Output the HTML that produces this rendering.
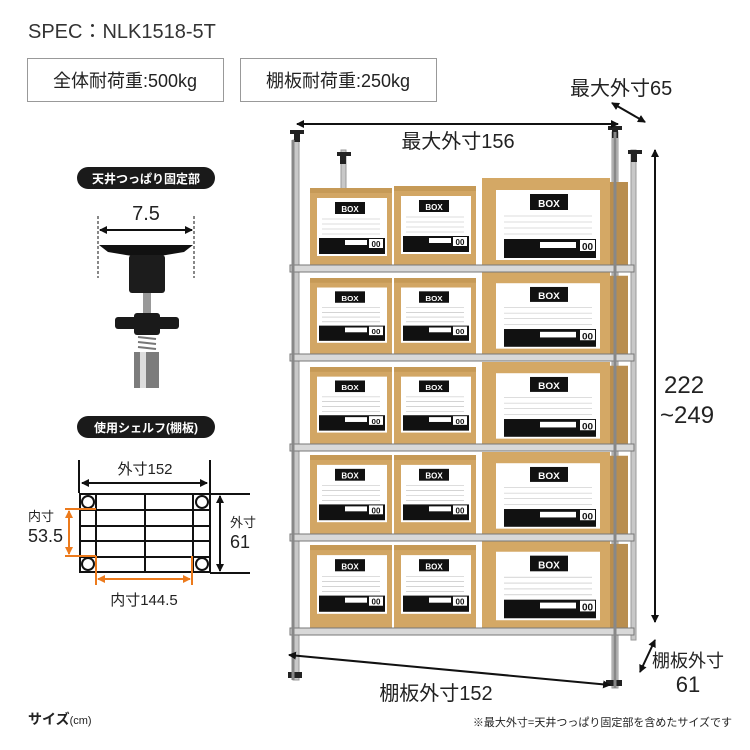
<!DOCTYPE html>
<html><head><meta charset="utf-8"><style>
html,body{margin:0;padding:0;background:#fff}
svg{display:block}
text{font-family:"Liberation Sans","Noto Sans CJK JP",sans-serif}
</style></head><body>
<svg width="750" height="750" viewBox="0 0 750 750" xmlns="http://www.w3.org/2000/svg">
<defs>
<marker id="ab" markerWidth="8" markerHeight="8" refX="7" refY="4" orient="auto-start-reverse" markerUnits="userSpaceOnUse"><path d="M0,0 L8,4 L0,8 z" fill="#111"/></marker>
<marker id="ao" markerWidth="8" markerHeight="8" refX="7" refY="4" orient="auto-start-reverse" markerUnits="userSpaceOnUse"><path d="M0,0 L8,4 L0,8 z" fill="#ec7a1c"/></marker>
<symbol id="sb" viewBox="0 0 82 84" preserveAspectRatio="none" overflow="visible">
<rect x="0" y="0" width="82" height="84" fill="#d2a664"/>
<rect x="0" y="0" width="82" height="5" fill="#c69a57"/>
<rect x="7" y="10" width="70" height="58" fill="#fff"/>
<rect x="25" y="14" width="30" height="12" fill="#111"/>
<text x="40" y="24" font-size="8" font-weight="bold" fill="#fff" text-anchor="middle">BOX</text>
<g stroke="#bbb" stroke-width="0.6"><line x1="12" y1="31" x2="70" y2="31"/><line x1="12" y1="36" x2="70" y2="36"/><line x1="12" y1="41" x2="70" y2="41"/><line x1="12" y1="46" x2="70" y2="46"/></g>
<rect x="9" y="50" width="66" height="16" fill="#111"/>
<rect x="59" y="51" width="14" height="9" fill="#fff"/>
<text x="66" y="59" font-size="8" font-weight="bold" text-anchor="middle" fill="#111">00</text>
<rect x="35" y="52" width="22" height="5" fill="#fff"/>
</symbol>
<symbol id="bb" viewBox="0 0 146 92" preserveAspectRatio="none" overflow="visible">
<rect x="0" y="0" width="128" height="92" fill="#d4a865"/>
<rect x="128" y="4" width="18" height="88" fill="#b98e4f"/>
<rect x="14" y="12" width="104" height="70" fill="#fff"/>
<rect x="48" y="16" width="38" height="16" fill="#111"/>
<text x="67" y="29" font-size="10" font-weight="bold" fill="#fff" text-anchor="middle">BOX</text>
<g stroke="#bbb" stroke-width="0.6"><line x1="22" y1="38" x2="110" y2="38"/><line x1="22" y1="44" x2="110" y2="44"/><line x1="22" y1="50" x2="110" y2="50"/><line x1="22" y1="56" x2="110" y2="56"/></g>
<rect x="22" y="61" width="92" height="19" fill="#111"/>
<rect x="98" y="62" width="15" height="11" fill="#fff"/>
<text x="105.5" y="72" font-size="10" font-weight="bold" text-anchor="middle" fill="#111">00</text>
<rect x="58" y="64" width="36" height="6" fill="#fff"/>
</symbol>
</defs>

<text x="28" y="38" font-size="20" fill="#333">SPEC：NLK1518-5T</text>
<rect x="27.5" y="58.5" width="196" height="43" fill="#fff" stroke="#999"/>
<text x="125" y="87" font-size="18" fill="#222" text-anchor="middle">全体耐荷重:500kg</text>
<rect x="240.5" y="58.5" width="196" height="43" fill="#fff" stroke="#999"/>
<text x="338" y="87" font-size="18" fill="#222" text-anchor="middle">棚板耐荷重:250kg</text>

<g stroke="#9a9a9a" fill="#c8c8c8">
<rect x="341" y="150" width="5" height="40" />
<rect x="631" y="150" width="5" height="490"/>
<rect x="293" y="140" width="6" height="540"/>
<rect x="612" y="132" width="6" height="556"/>
</g>
<g fill="#222">
<rect x="290" y="130" width="14" height="4"/><rect x="294" y="134" width="6" height="8"/>
<rect x="337" y="152" width="14" height="4"/><rect x="340" y="156" width="6" height="8"/>
<rect x="608" y="126" width="14" height="4"/><rect x="612" y="130" width="6" height="8"/>
<rect x="628" y="150" width="14" height="4"/><rect x="631" y="154" width="6" height="8"/>
<rect x="606" y="680" width="16" height="6"/><rect x="288" y="672" width="14" height="6"/>
</g>

<use href="#sb" x="310" y="188" width="82" height="84"/>
<use href="#sb" x="394" y="186" width="82" height="84"/>
<use href="#bb" x="482" y="178" width="146" height="92"/>
<use href="#sb" x="310" y="278" width="82" height="80"/>
<use href="#sb" x="394" y="278" width="82" height="80"/>
<use href="#bb" x="482" y="272" width="146" height="86"/>
<use href="#sb" x="310" y="367" width="82" height="81"/>
<use href="#sb" x="394" y="367" width="82" height="81"/>
<use href="#bb" x="482" y="362" width="146" height="86"/>
<use href="#sb" x="310" y="455" width="82" height="83"/>
<use href="#sb" x="394" y="455" width="82" height="83"/>
<use href="#bb" x="482" y="452" width="146" height="86"/>
<use href="#sb" x="310" y="545" width="82" height="85"/>
<use href="#sb" x="394" y="545" width="82" height="85"/>
<use href="#bb" x="482" y="540" width="146" height="90"/>

<g fill="#d8d8d8" stroke="#777" stroke-width="1">
<rect x="290" y="265" width="344" height="7"/>
<rect x="290" y="354" width="344" height="7"/>
<rect x="290" y="444" width="344" height="7"/>
<rect x="290" y="534" width="344" height="7"/>
<rect x="290" y="628" width="344" height="7"/>
</g>
<g stroke="#888" stroke-width="3" fill="none"><path d="M293,140 v540 M615,132 v556"/></g>

<line x1="297" y1="124" x2="618" y2="124" stroke="#111" stroke-width="2" marker-start="url(#ab)" marker-end="url(#ab)"/>
<text x="458" y="148" font-size="20" fill="#222" text-anchor="middle">最大外寸156</text>
<text x="570" y="95" font-size="20" fill="#222">最大外寸65</text>
<line x1="612" y1="103" x2="645" y2="122" stroke="#111" stroke-width="2" marker-start="url(#ab)" marker-end="url(#ab)"/>
<line x1="655" y1="150" x2="655" y2="622" stroke="#111" stroke-width="2" marker-start="url(#ab)" marker-end="url(#ab)"/>
<text x="664" y="393" font-size="24" fill="#222">222</text>
<text x="660" y="423" font-size="24" fill="#222">~249</text>
<line x1="289" y1="655" x2="610" y2="685" stroke="#111" stroke-width="2" marker-start="url(#ab)" marker-end="url(#ab)"/>
<text x="436" y="700" font-size="20" fill="#222" text-anchor="middle">棚板外寸152</text>
<line x1="655" y1="640" x2="640" y2="672" stroke="#111" stroke-width="2" marker-start="url(#ab)" marker-end="url(#ab)"/>
<text x="688" y="667" font-size="18" fill="#222" text-anchor="middle">棚板外寸</text>
<text x="688" y="692" font-size="22" fill="#222" text-anchor="middle">61</text>

<rect x="77" y="167" width="138" height="22" rx="11" fill="#1a1a1a"/>
<text x="146" y="183" font-size="12" font-weight="bold" fill="#fff" text-anchor="middle">天井つっぱり固定部</text>
<text x="146" y="220" font-size="20" fill="#222" text-anchor="middle">7.5</text>
<g stroke="#111" stroke-dasharray="3,2"><line x1="98" y1="216" x2="98" y2="278"/><line x1="194" y1="216" x2="194" y2="278"/></g>
<line x1="100" y1="230" x2="192" y2="230" stroke="#111" stroke-width="2" marker-start="url(#ab)" marker-end="url(#ab)"/>
<path d="M99,245 L193,245 L184,252 L160,256 L132,256 L108,252 Z" fill="#111"/>
<rect x="129" y="255" width="36" height="38" rx="3" fill="#1c1c1c"/>
<rect x="143" y="293" width="8" height="22" fill="#999"/>
<rect x="115" y="317" width="64" height="12" rx="3" fill="#1a1a1a"/>
<rect x="134" y="313" width="26" height="22" rx="3" fill="#1a1a1a"/>
<g stroke="#777" stroke-width="2"><line x1="138" y1="337" x2="156" y2="339"/><line x1="138" y1="342" x2="156" y2="344"/><line x1="138" y1="347" x2="156" y2="349"/></g>
<rect x="134" y="352" width="25" height="36" fill="#7c7c7c"/>
<rect x="140" y="352" width="6" height="36" fill="#ddd"/>

<rect x="77" y="416" width="138" height="22" rx="11" fill="#1a1a1a"/>
<text x="146" y="432" font-size="12" font-weight="bold" fill="#fff" text-anchor="middle">使用シェルフ(棚板)</text>
<g stroke="#111" stroke-width="2" fill="none">
<line x1="79" y1="460" x2="79" y2="493"/><line x1="210" y1="460" x2="210" y2="493"/>
<rect x="80" y="494" width="130" height="78"/>
<line x1="96" y1="494" x2="96" y2="572"/><line x1="145" y1="494" x2="145" y2="572"/><line x1="193" y1="494" x2="193" y2="572"/>
<line x1="80" y1="510" x2="210" y2="510"/><line x1="80" y1="526" x2="210" y2="526"/><line x1="80" y1="541" x2="210" y2="541"/><line x1="80" y1="557" x2="210" y2="557"/>
<line x1="210" y1="494" x2="250" y2="494"/><line x1="210" y1="573" x2="250" y2="573"/>
<circle cx="88" cy="502" r="6" fill="#fff"/><circle cx="202" cy="502" r="6" fill="#fff"/>
<circle cx="88" cy="564" r="6" fill="#fff"/><circle cx="202" cy="564" r="6" fill="#fff"/>
</g>
<line x1="82" y1="483" x2="207" y2="483" stroke="#111" stroke-width="2" marker-start="url(#ab)" marker-end="url(#ab)"/>
<line x1="220" y1="496" x2="220" y2="571" stroke="#111" stroke-width="2" marker-start="url(#ab)" marker-end="url(#ab)"/>
<text x="145" y="474" font-size="15" fill="#222" text-anchor="middle">外寸152</text>
<text x="230" y="527" font-size="13" fill="#222">外寸</text>
<text x="230" y="548" font-size="18" fill="#222">61</text>
<g stroke="#ec7a1c" stroke-width="2">
<line x1="65" y1="509" x2="96" y2="509"/><line x1="65" y1="556" x2="96" y2="556"/>
<line x1="96" y1="556" x2="96" y2="585"/><line x1="192" y1="556" x2="192" y2="585"/>
</g>
<line x1="69" y1="511" x2="69" y2="554" stroke="#ec7a1c" stroke-width="2" marker-start="url(#ao)" marker-end="url(#ao)"/>
<line x1="98" y1="579" x2="190" y2="579" stroke="#ec7a1c" stroke-width="2" marker-start="url(#ao)" marker-end="url(#ao)"/>
<text x="28" y="521" font-size="13" fill="#222">内寸</text>
<text x="28" y="542" font-size="18" fill="#222">53.5</text>
<text x="144" y="605" font-size="15" fill="#222" text-anchor="middle">内寸144.5</text>

<text x="28" y="724" font-size="14" font-weight="bold" fill="#222">サイズ<tspan font-size="11" font-weight="normal">(cm)</tspan></text>
<text x="732" y="726" font-size="11" fill="#222" text-anchor="end">※最大外寸=天井つっぱり固定部を含めたサイズです</text>
</svg>
</body></html>
